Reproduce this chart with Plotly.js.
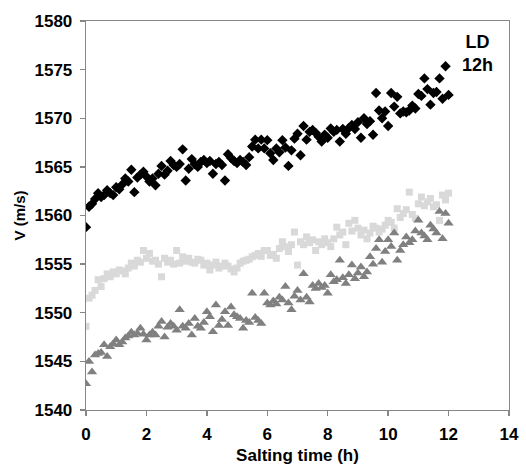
<!DOCTYPE html>
<html>
<head>
<meta charset="utf-8">
<script src="https://cdn.plot.ly/plotly-3.0.1.min.js"></script>
<style>html,body{margin:0;padding:0;background:#fff;}#chart{width:526px;height:473px;}</style>
</head>
<body>
<div id="chart"></div>
<script>
const time = [0,0.1,0.2,0.3,0.4,0.5,0.6,0.7,0.8,0.9,1,1.1,1.2,1.3,1.4,1.5,1.6,1.7,1.8,1.9,2,2.1,2.2,2.3,2.4,2.5,2.6,2.7,2.8,2.9,3,3.1,3.2,3.3,3.4,3.5,3.6,3.7,3.8,3.9,4,4.1,4.2,4.3,4.4,4.5,4.6,4.7,4.8,4.9,5,5.1,5.2,5.3,5.4,5.5,5.6,5.7,5.8,5.9,6,6.1,6.2,6.3,6.4,6.5,6.6,6.7,6.8,6.9,7,7.1,7.2,7.3,7.4,7.5,7.6,7.7,7.8,7.9,8,8.1,8.2,8.3,8.4,8.5,8.6,8.7,8.8,8.9,9,9.1,9.2,9.3,9.4,9.5,9.6,9.7,9.8,9.9,10,10.1,10.2,10.3,10.4,10.5,10.6,10.7,10.8,10.9,11,11.1,11.2,11.3,11.4,11.5,11.6,11.7,11.8,11.9,12];

const seriesBlack = [1558.8,1560.9,1561.2,1561.7,1562.3,1561.9,1562.1,1562.6,1562.3,1562.1,1562.9,1562.7,1563.2,1563.8,1563.5,1564.7,1562.4,1563.9,1564.2,1564.5,1564.0,1563.5,1563.8,1563.1,1564.3,1565.1,1564.2,1564.6,1565.6,1565.2,1565.0,1565.3,1566.8,1563.6,1564.8,1565.8,1565.3,1565.0,1565.5,1565.7,1565.4,1565.6,1564.3,1565.3,1565.5,1565.2,1563.6,1566.3,1565.9,1565.6,1565.4,1565.7,1565.5,1565.2,1566.0,1567.1,1567.8,1566.9,1567.8,1566.9,1567.75,1566.4,1565.7,1566.9,1566.5,1567.75,1567.0,1565.1,1566.7,1567.9,1568.4,1566.2,1569.2,1567.8,1568.6,1568.8,1568.5,1568.1,1567.6,1568.3,1568.0,1568.95,1568.6,1568.8,1567.6,1568.9,1568.4,1569.0,1569.3,1568.9,1569.6,1568.0,1570.0,1569.4,1569.7,1568.3,1572.6,1570.8,1570.0,1570.7,1569.2,1572.6,1571.2,1572.2,1570.5,1570.7,1570.6,1570.8,1571.3,1571.0,1572.5,1572.3,1574.1,1573.0,1571.4,1572.6,1572.7,1574.1,1572.0,1575.35,1572.4];

const seriesLight = [1548.6,1551.5,1551.8,1552.3,1553.4,1552.7,1553.5,1554.0,1553.7,1554.2,1554.0,1554.4,1554.3,1554.0,1554.6,1555.1,1554.8,1555.4,1555.2,1556.4,1555.6,1556.1,1555.3,1555.4,1555.0,1553.7,1555.6,1555.2,1555.4,1555.0,1556.4,1555.1,1555.75,1555.3,1555.6,1555.2,1555.1,1555.5,1555.4,1554.9,1555.1,1554.4,1554.9,1555.2,1554.6,1554.8,1555.1,1554.8,1554.5,1554.2,1554.6,1555.1,1555.3,1555.4,1555.5,1555.75,1555.9,1556.1,1555.8,1556.4,1556.4,1555.9,1556.0,1555.6,1556.6,1557.3,1556.8,1556.3,1557.0,1558.3,1554.9,1557.3,1557.0,1557.8,1557.2,1557.5,1556.4,1557.3,1557.0,1557.6,1557.2,1556.8,1557.6,1558.8,1558.0,1558.3,1557.0,1559.2,1558.4,1559.5,1558.7,1558.0,1558.5,1557.6,1558.2,1558.9,1558.7,1558.3,1558.6,1559.0,1559.5,1559.3,1558.7,1560.7,1559.8,1560.2,1560.6,1562.4,1560.1,1559.7,1561.2,1561.9,1561.0,1561.4,1561.75,1560.9,1561.1,1559.5,1562.1,1561.6,1562.3];

const seriesGray = [1542.7,1545.0,1543.9,1545.65,1545.8,1545.9,1546.7,1545.5,1546.5,1546.8,1547.2,1546.7,1547.0,1547.4,1547.6,1548.0,1547.7,1547.9,1548.4,1547.8,1547.2,1547.7,1548.0,1547.7,1548.6,1549.1,1547.5,1548.5,1548.9,1548.6,1548.2,1550.3,1548.6,1548.4,1548.9,1547.7,1549.4,1548.6,1548.4,1549.0,1550.1,1549.6,1548.05,1550.8,1548.7,1549.3,1550.1,1548.7,1550.6,1549.8,1549.6,1549.4,1548.4,1549.2,1549.0,1552.0,1549.5,1549.2,1548.9,1552.0,1551.0,1550.8,1551.2,1550.9,1551.6,1551.3,1552.7,1551.0,1550.3,1551.7,1552.3,1551.3,1554.0,1551.6,1551.1,1552.8,1552.5,1553.0,1552.6,1552.8,1552.0,1553.9,1553.2,1553.4,1555.4,1553.6,1553.0,1553.9,1554.9,1553.5,1554.1,1554.7,1553.7,1554.2,1555.75,1555.0,1556.6,1557.5,1555.2,1556.3,1557.5,1556.8,1558.2,1555.4,1556.4,1557.0,1557.8,1557.2,1557.5,1558.4,1559.5,1558.2,1557.9,1557.5,1559.0,1558.6,1558.2,1560.4,1557.6,1560.2,1559.2];

const xTicks = [0,2,4,6,8,10,12,14];
const yTicks = [1540,1545,1550,1555,1560,1565,1570,1575,1580];
const labelLines = ["LD","12h"];

const FONT = "Liberation Sans, Arial, sans-serif";

const traces = [
  {x: time, y: seriesLight, type: "scatter", mode: "markers", name: "light",
   marker: {symbol: "square", size: 7, color: "#d9d9d9"}, showlegend: false, hoverinfo: "skip"},
  {x: time, y: seriesGray, type: "scatter", mode: "markers", name: "gray",
   marker: {symbol: "triangle-up", size: 9, color: "#808080"}, showlegend: false, hoverinfo: "skip"},
  {x: time, y: seriesBlack, type: "scatter", mode: "markers", name: "black",
   marker: {symbol: "diamond", size: 8, color: "#000000"}, showlegend: false, hoverinfo: "skip"}
];

const axisCommon = {
  showgrid: false, zeroline: false,
  showline: true, linecolor: "#868686", linewidth: 1.3, mirror: true,
  ticks: "outside", ticklen: 5, tickwidth: 1.3, tickcolor: "#868686",
  tickfont: {family: FONT, size: 17, color: "#000", weight: "bold"}
};

const layout = {
  width: 526, height: 473,
  margin: {l: 86, r: 17, t: 21, b: 63},
  paper_bgcolor: "#fff", plot_bgcolor: "#fff",
  xaxis: Object.assign({}, axisCommon, {
    range: [0, 14], tickvals: xTicks, ticktext: xTicks.map(String),
    ticklabelstandoff: 3,
    title: {text: "<b>Salting time (h)</b>", font: {family: FONT, size: 17, color: "#000"}, standoff: 6}
  }),
  yaxis: Object.assign({}, axisCommon, {
    range: [1540, 1580], tickvals: yTicks, ticktext: yTicks.map(String),
    ticklabelstandoff: 4,
    title: {text: "<b>V (m/s)</b>", font: {family: FONT, size: 15, color: "#000"}, standoff: 5}
  }),
  annotations: [{
    x: 12.97, y: 1576.7, xref: "x", yref: "y", showarrow: false,
    text: "<b>" + labelLines.join("<br>") + "</b>", align: "center",
    font: {family: FONT, size: 18, color: "#000"}
  }]
};

Plotly.newPlot("chart", traces, layout, {displayModeBar: false, staticPlot: true});
</script>
</body>
</html>
